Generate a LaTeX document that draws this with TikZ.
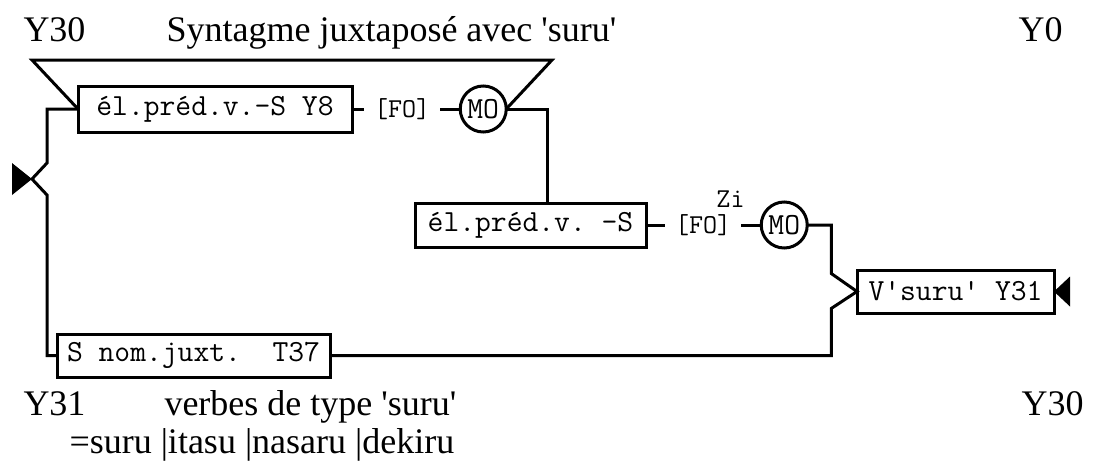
\documentclass[tikz,border=0pt]{standalone}
\usepackage{fontspec}
\setmainfont{Liberation Serif}
\usetikzlibrary{positioning}

\newcommand{\bigserif}{\fontsize{36}{40}\selectfont}
\newcommand{\boxfont}{\ttfamily\frenchspacing\fontsize{30.7}{33}\selectfont}
\newcommand{\tagfont}{\ttfamily\fontsize{27.3}{30}\selectfont}

\begin{document}
\begin{tikzpicture}[
    x=1pt, y=-1pt,
    line width=3pt,
    elem/.style={
        draw,
        rectangle,
        minimum height=44pt,
        inner sep=0pt,
        outer sep=0pt,
        font=\boxfont
    },
    morph/.style={
        draw,
        circle,
        minimum size=46pt,
        inner sep=0pt,
        outer sep=0pt,
        font=\boxfont
    },
    fo/.style={inner xsep=10pt, inner ysep=0pt, outer sep=0pt, font=\tagfont},
    lbl/.style={anchor=base west, inner sep=0pt, font=\bigserif}
]
\useasboundingbox (0,0) rectangle (1102,463);

% --- Headings ---
\node[lbl] (ytl)   at (22,41)   {Y30};
\node[lbl] (title) at (165,41)  {Syntagme juxtaposé avec \textquotesingle suru\textquotesingle};
\node[lbl] (ytr)   at (1017,41) {Y0};

% --- First element (inside the frame) ---
\node[elem, minimum width=274pt, minimum height=46pt] (pred1) at (215,109) {él.préd.v.-S Y8};
\node[fo, right=12pt of pred1] (fo1) {[FO]};
\node[morph, right=20pt of fo1] (mo1) {MO};

% --- Second element ---
\node[elem, minimum width=231pt] (pred2) at (530.5,225) {él.préd.v. -S};
\node[fo, right=19pt of pred2] (fo2) {[FO]};
\node[font=\tagfont, inner sep=0pt, anchor=base] (zi) at (730.5,207) {Zi};
\node[morph, right=20pt of fo2] (mo2) {MO};

% --- Verb and juxtaposed noun ---
\node[elem, minimum width=197pt, minimum height=43pt] (vsuru)   at (955.5,291.5) {V\textquotesingle suru\textquotesingle\ Y31};
\node[elem, minimum width=273pt, minimum height=43pt] (nomjuxt) at (193.5,355.5) {S nom.juxt.\ \ T37};

% --- Footer ---
\node[lbl] (ybl)   at (22,415)   {Y31};
\node[lbl] (verbs) at (163,415)  {verbes de type \textquotesingle suru\textquotesingle};
\node[lbl] (ybr)   at (1020,415) {Y30};
\node[lbl] (vlist) at (68,453)   {=suru |itasu |nasaru |dekiru};

% --- Frame over the first element ---
\coordinate (trapL) at (32,60);
\coordinate (trapR) at (552,60);
\draw (pred1.west) -- (trapL) -- (trapR) -- (mo1.east);

% --- Chain links ---
\draw (pred1) -- (fo1);
\draw (fo1) -- (mo1);
\draw (pred2) -- (fo2);
\draw (fo2) -- (mo2);

\coordinate (bend1) at ([xshift=41pt]mo1.east);
\draw (mo1.east) -- (bend1) -- (bend1 |- pred2.north);

% --- Right branch into the verb ---
\coordinate (bend2) at ([xshift=24pt]mo2.east);
\draw (mo2.east) -- (bend2)
    -- ([yshift=18pt]bend2 |- vsuru.west) -- (vsuru.west)
    -- ([yshift=-17pt]bend2 |- vsuru.west)
    -- (bend2 |- nomjuxt.east) -- (nomjuxt.east);
\fill (vsuru.east) -- ++(16pt,15pt) -- ++(0,-30pt) -- cycle;

% --- Left branch ---
\coordinate (bend0) at ([xshift=-31pt]pred1.west);
\coordinate (tipL)  at (32,179);
\draw (pred1.west) -- (bend0)
    -- ([yshift=16pt]bend0 |- tipL) -- (tipL)
    -- ([yshift=-16pt]bend0 |- tipL)
    -- (bend0 |- nomjuxt.west) -- (nomjuxt.west);
\fill (tipL) -- ++(-20pt,16pt) -- ++(0,-32pt) -- cycle;

\end{tikzpicture}
\end{document}
